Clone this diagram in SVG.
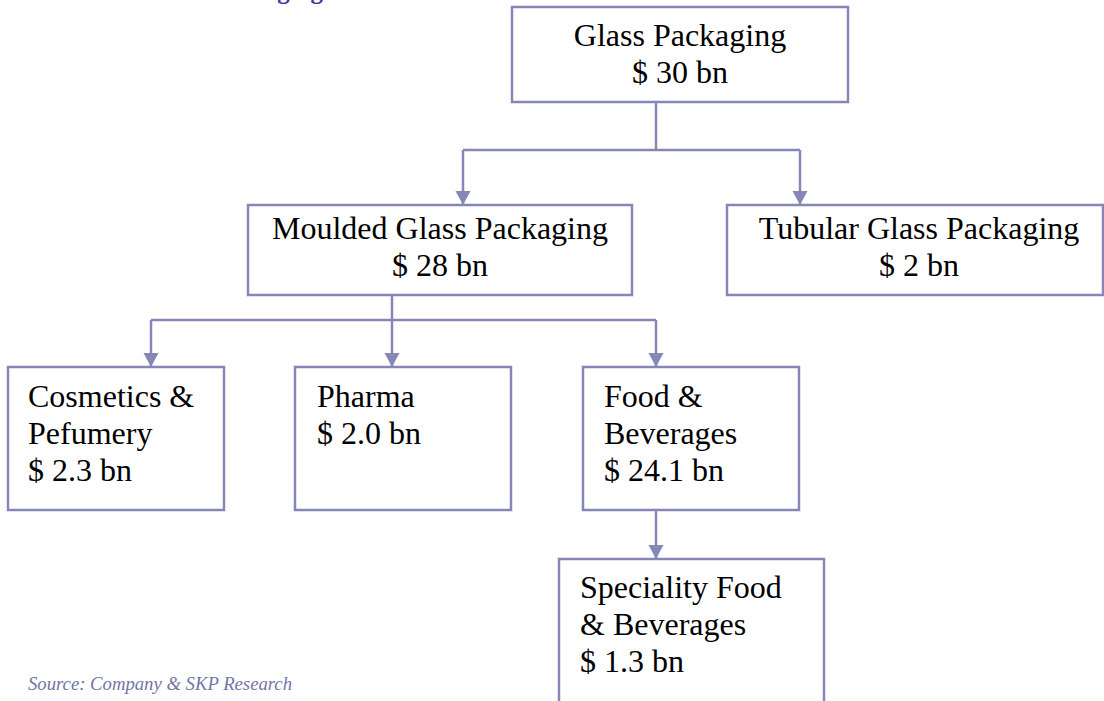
<svg xmlns="http://www.w3.org/2000/svg" width="1104" height="701" viewBox="0 0 1104 701">
<style>
.box{fill:#ffffff;stroke:#8787b7;stroke-width:2.5}
.ln{fill:none;stroke:#8787b7;stroke-width:2.5}
.t{font-family:"Liberation Serif","Times New Roman",serif;font-size:32px;fill:#000000}
.c{text-anchor:middle}
.src{font-family:"Liberation Serif","Times New Roman",serif;font-size:18.7px;font-style:italic;fill:#7474a8}
.hd{font-family:"Liberation Serif","Times New Roman",serif;font-size:25px;font-weight:bold;fill:#3a3aa0}
</style>
<defs>
<marker id="ah" markerUnits="userSpaceOnUse" markerWidth="16" markerHeight="16" refX="14" refY="7.5" orient="auto">
<path d="M0,0 L14,7.5 L0,15 z" fill="#8787b7"/>
</marker>
</defs>
<rect width="1104" height="701" fill="#ffffff"/>
<text class="hd" x="323" y="-1" text-anchor="end">Packaging</text>
<g id="connectors">
<path class="ln" d="M656,102 V150"/>
<path class="ln" d="M463,150 H800"/>
<path class="ln" d="M463,150 V205" marker-end="url(#ah)"/>
<path class="ln" d="M800,150 V205" marker-end="url(#ah)"/>
<path class="ln" d="M392,295 V320"/>
<path class="ln" d="M151,320 H656"/>
<path class="ln" d="M151,320 V367" marker-end="url(#ah)"/>
<path class="ln" d="M392,320 V367" marker-end="url(#ah)"/>
<path class="ln" d="M656,320 V367" marker-end="url(#ah)"/>
<path class="ln" d="M656,510 V559" marker-end="url(#ah)"/>
</g>
<g id="glass">
<rect class="box" x="512" y="7" width="336" height="95"/>
<text class="t c" x="680" y="46">Glass Packaging</text>
<text class="t c" x="680" y="83">$ 30 bn</text>
</g>
<g id="moulded">
<rect class="box" x="248" y="205" width="384" height="90"/>
<text class="t c" x="440" y="239">Moulded Glass Packaging</text>
<text class="t c" x="440" y="276">$ 28 bn</text>
</g>
<g id="tubular">
<rect class="box" x="727" y="205" width="376" height="90"/>
<text class="t c" x="919" y="239">Tubular Glass Packaging</text>
<text class="t c" x="919" y="276">$ 2 bn</text>
</g>
<g id="cosmetics">
<rect class="box" x="8" y="367" width="216" height="143"/>
<text class="t" x="28" y="407">Cosmetics &amp;</text>
<text class="t" x="28" y="444">Pefumery</text>
<text class="t" x="28" y="481">$ 2.3 bn</text>
</g>
<g id="pharma">
<rect class="box" x="295" y="367" width="216" height="143"/>
<text class="t" x="317" y="407">Pharma</text>
<text class="t" x="317" y="444">$ 2.0 bn</text>
</g>
<g id="food">
<rect class="box" x="583" y="367" width="216" height="143"/>
<text class="t" x="604" y="407">Food &amp;</text>
<text class="t" x="604" y="444">Beverages</text>
<text class="t" x="604" y="481">$ 24.1 bn</text>
</g>
<g id="speciality">
<rect class="box" x="559" y="559" width="265" height="160"/>
<text class="t" x="580" y="598">Speciality Food</text>
<text class="t" x="580" y="635">&amp; Beverages</text>
<text class="t" x="580" y="672">$ 1.3 bn</text>
</g>
<text class="src" x="28" y="690">Source: Company &amp; SKP Research</text>
</svg>
